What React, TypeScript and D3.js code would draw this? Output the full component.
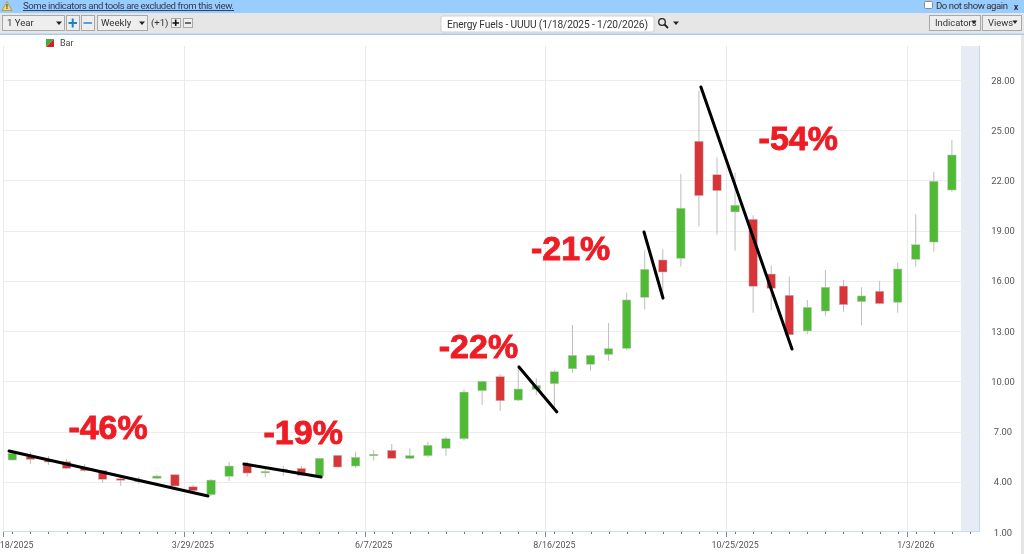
import React from 'react';
import * as d3 from 'd3';

const opens = [5.30,5.50,5.27,5.20,4.82,4.66,4.18,4.10,4.21,4.42,3.70,3.23,4.33,5.06,4.54,4.66,4.80,4.34,5.58,4.94,5.56,5.88,5.40,5.56,6.00,6.57,9.44,10.28,8.88,9.52,9.86,10.75,11.02,11.61,11.97,15.02,17.25,17.35,24.34,22.34,20.12,19.68,16.41,15.14,13.01,14.20,15.69,14.76,15.38,14.72,17.29,18.32,21.43];
const highs = [5.84,5.78,5.54,5.36,5.06,4.70,4.28,4.30,4.42,4.46,3.81,4.15,5.18,5.20,4.80,4.94,4.94,5.42,5.60,5.80,5.90,6.26,6.00,6.38,6.69,9.52,10.04,10.44,10.78,10.18,10.68,13.36,11.61,13.48,15.29,17.84,17.89,22.39,27.36,23.38,22.46,19.92,16.93,16.25,14.86,16.65,16.05,15.62,15.99,17.09,19.98,22.52,24.42];
const lows = [5.27,5.06,5.00,4.76,4.60,3.94,3.75,3.87,4.15,3.70,3.43,3.15,4.05,4.30,4.27,4.34,4.34,4.30,4.86,4.82,5.26,5.39,5.34,5.46,5.56,6.45,8.60,8.24,8.81,9.18,8.39,10.52,10.63,11.23,11.87,14.30,14.86,16.85,19.24,18.76,17.80,14.10,14.26,12.77,12.81,13.92,14.16,13.36,14.60,14.10,16.85,17.74,21.33];
const closes = [5.70,5.34,5.18,4.80,4.66,4.15,4.09,4.02,4.34,3.75,3.47,4.10,4.94,4.52,4.62,4.76,4.39,5.40,4.88,5.46,5.64,5.40,5.56,6.18,6.57,9.36,10.00,8.84,9.54,9.76,10.57,11.55,11.55,11.95,14.86,16.69,16.53,20.34,21.09,21.39,20.52,15.68,15.56,12.78,14.42,15.62,14.58,15.10,14.64,16.71,18.16,21.95,23.52];
const priceTicks = [1,4,7,10,13,16,19,22,25,28];
const dateLabels = ['1/18/2025','3/29/2025','6/7/2025','8/16/2025','10/25/2025','1/3/2026'];
const dateIdx = [0,10,20,30,40,50];
// Trend annotations: [week, price, week, price]
const trends = [[-0.18,5.84,10.83,3.15],[12.82,5.06,17.09,4.28],[28.04,10.86,30.14,8.17],[34.96,18.92,36.01,14.98],[38.11,27.58,43.15,11.93]];
const pctLabels = ['-46%','-19%','-22%','-21%','-54%'];
const pctWeek = [5.3,16.1,25.8,30.9,43.5];
const pctPrice = [6.55,6.25,11.4,17.25,23.8];

const UI = 'Roboto, "Noto Sans", sans-serif';
const GREEN = '#4fba33';
const RED = '#d93437';

const x = d3.scaleLinear().domain([0, 52]).range([12.3, 951.9]);
const y = d3.scaleLinear().domain([1, 28]).range([532, 80]);

function Btn({ bx, by, w, h, fill = '#eeeeee', stroke = '#a8a8a8' }: any) {
  return <rect x={bx + 0.5} y={by + 0.5} width={w} height={h} fill={fill} stroke={stroke} />;
}
function Caret({ cx, cy, s = 3, c = '#222' }: any) {
  return <path d={d3.line()([[cx - s, cy - 1.5], [cx + s, cy - 1.5], [cx, cy + 2]]) + 'Z'} fill={c} />;
}

export default function App() {
  const n = opens.length;
  const weeks = d3.range(n + 1);
  const bw = 8.4;
  return (
    <svg width={1024} height={554} viewBox="0 0 1024 554" style={{ position: 'fixed', left: 0, top: 0, display: 'block', background: '#fff', filter: 'blur(0.35px)' }} fontFamily={UI}>
      {/* banner */}
      <rect x={0} y={0} width={1024} height={13} fill="#99ccff" />
      <path d="M7 1.5 L12 10.5 L2 10.5 Z" fill="#f5d76e" stroke="#a08a30" strokeWidth={0.7} />
      <text x={7} y={9.3} fontSize={7} textAnchor="middle" fontWeight={700} fill="#333">!</text>
      <text x={23} y={9} fontSize={9.6} fill="#333a55" textDecoration="underline" textLength={211}>Some indicators and tools are excluded from this view.</text>
      <rect x={924.5} y={1.5} width={8} height={7} fill="#fff" stroke="#8a8a8a" rx={1} />
      <text x={936} y={9} fontSize={9.6} fill="#333" textLength={72}>Do not show again</text>
      <text x={1016} y={9.5} fontSize={9} fontWeight={700} textAnchor="middle" fill="#333">x</text>
      {/* toolbar */}
      <rect x={0} y={13} width={1024} height={21} fill="#e6e6e6" />
      <rect x={0} y={33.5} width={1024} height={1.5} fill="#a6cdf0" />
      <Btn bx={2} by={15} w={62} h={15} />
      <text x={7} y={26.3} fontSize={9.6} fill="#333">1 Year</text>
      <Caret cx={59} cy={23} />
      <Btn bx={66} by={15} w={13} h={15} />
      <path d="M68.5 23 H77 M72.7 18.5 V27.5" stroke="#1f80c8" strokeWidth={2} />
      <Btn bx={81} by={15} w={13} h={15} />
      <path d="M83.5 23 H92" stroke="#5c9fd6" strokeWidth={2} />
      <Btn bx={97} by={15} w={50} h={15} />
      <text x={101} y={26.3} fontSize={9.6} fill="#333">Weekly</text>
      <Caret cx={142} cy={23} />
      <text x={151} y={26.3} fontSize={9.6} fill="#333">(+1)</text>
      <Btn bx={171} by={18} w={9} h={9} />
      <path d="M172.5 23 H179 M175.7 19.5 V26" stroke="#111" strokeWidth={1.6} />
      <Btn bx={183} by={18} w={9} h={9} />
      <path d="M185 23 H191" stroke="#333" strokeWidth={1.4} />
      <rect x={441} y={16} width={213} height={16} rx={2} fill="#fff" stroke="#cfcfcf" />
      <text x={447} y={28} fontSize={10.2} fill="#333" textLength={201}>Energy Fuels - UUUU (1/18/2025 - 1/20/2026)</text>
      <circle cx={662} cy={22} r={3.3} fill="none" stroke="#222" strokeWidth={1.3} />
      <path d="M664.5 24.5 L668 28" stroke="#222" strokeWidth={1.8} />
      <Caret cx={676} cy={23} />
      <Btn bx={929} by={15} w={51} h={15} />
      <text x={935} y={26} fontSize={9.4} fill="#333">Indicators</text>
      <Caret cx={974} cy={22} s={2.5} />
      <Btn bx={982} by={15} w={39} h={15} />
      <text x={988} y={26} fontSize={9.4} fill="#333">Views</text>
      <Caret cx={1015} cy={22} s={2.5} />
      {/* legend */}
      <path d="M46 39 H54 L46 47 Z" fill="#3fae3c" />
      <path d="M54 39 V47 H46 Z" fill="#d81f26" />
      <text x={60} y={46} fontSize={9} fill="#444">Bar</text>
      {/* forecast band */}
      <rect x={x(52.5)} y={46} width={979 - x(52.5)} height={y(1) - 46} fill="#e5ecf6" />
      <line x1={979.5} x2={979.5} y1={46} y2={y(1)} stroke="#c4dcf0" />
      {/* grid */}
      {priceTicks.slice(1).map((p) => (
        <line key={p} x1={3} x2={979} y1={Math.round(y(p)) + 0.5} y2={Math.round(y(p)) + 0.5} stroke="#ececec" />
      ))}
      {dateIdx.map((d) => (
        <line key={d} x1={Math.round(x(d - 0.5)) + 0.5} x2={Math.round(x(d - 0.5)) + 0.5} y1={46} y2={y(1)} stroke="#e9e9e9" />
      ))}
      {/* x axis */}
      <line x1={3} x2={979} y1={531.5} y2={531.5} stroke="#c6def2" />
      {weeks.map((i) => (
        <line key={i} x1={Math.round(x(i)) + 0.5} x2={Math.round(x(i)) + 0.5} y1={532} y2={534} stroke="#777" />
      ))}
      {dateIdx.map((d) => (
        <line key={d} x1={Math.round(x(d - 0.5)) + 0.5} x2={Math.round(x(d - 0.5)) + 0.5} y1={532} y2={537} stroke="#888" />
      ))}
      {dateLabels.map((t, k) => (
        <text key={t} x={x(dateIdx[k])} y={547.5} fontSize={8.9} textAnchor="middle" fill="#555">{t}</text>
      ))}
      {/* y labels */}
      {priceTicks.map((p) => (
        <text key={p} x={1003} y={y(p) + 3.5} fontSize={9.4} textAnchor="middle" fill="#555">{d3.format('.2f')(p)}</text>
      ))}
      {/* scrollbar */}
      <rect x={1021} y={35} width={3} height={519} fill="#e6e6e6" />
      {/* candles */}
      {opens.map((o, i) => {
        const c = closes[i];
        const up = c >= o;
        const top = y(Math.max(o, c));
        const bot = y(Math.min(o, c));
        const cx = x(i);
        return (
          <g key={i}>
            <line x1={cx} x2={cx} y1={y(highs[i])} y2={y(lows[i])} stroke="#bdbdbd" strokeWidth={1} />
            <rect x={cx - bw / 2} y={top} width={bw} height={Math.max(bot - top, 1.5)} fill={up ? GREEN : RED} stroke="#c4c4c4" strokeWidth={0.5} />
          </g>
        );
      })}
      {/* annotations */}
      {trends.map((t, k) => (
        <line key={k} x1={x(t[0])} y1={y(t[1])} x2={x(t[2])} y2={y(t[3])} stroke="#000" strokeWidth={3} strokeLinecap="round" />
      ))}
      {pctLabels.map((t, k) => (
        <text key={k} x={x(pctWeek[k])} y={y(pctPrice[k])} fontFamily='"Liberation Sans", Arial, sans-serif' fontWeight={700} fontSize={34} textAnchor="middle" fill="#ee1c25" stroke="#ee1c25" strokeWidth={0.9}>{t}</text>
      ))}
    </svg>
  );
}
